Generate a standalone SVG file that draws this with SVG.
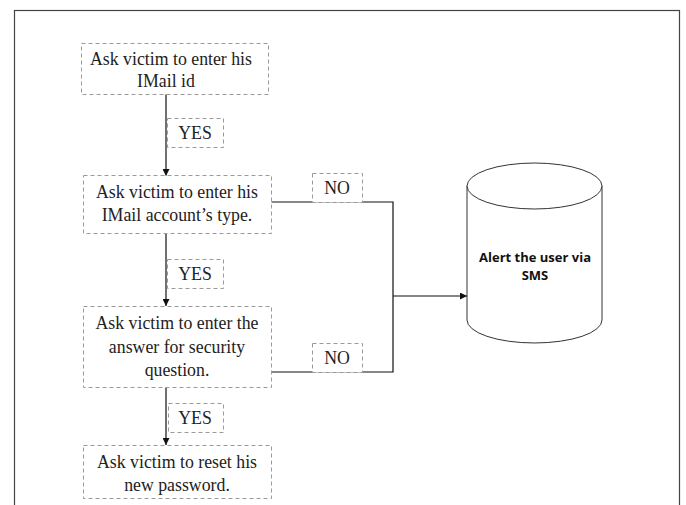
<svg xmlns="http://www.w3.org/2000/svg" width="686" height="505" viewBox="0 0 686 505">
<defs>
<style>
.box{fill:#fff;stroke:#9a9a9a;stroke-width:1;stroke-dasharray:4 3}
.t{font-family:"Liberation Serif","Times New Roman",serif;font-size:17.8px;fill:#222;text-anchor:middle}
.c{fill:none;stroke:#111;stroke-width:1.2}
.b{font-family:"Open Sans","Liberation Sans",sans-serif;font-weight:bold;font-size:13px;fill:#111;text-anchor:middle}
</style>
<marker id="ah" viewBox="0 0 10 10" refX="10" refY="5" markerWidth="7" markerHeight="7" orient="auto" markerUnits="userSpaceOnUse">
<path d="M0,0 L10,5 L0,10 z" fill="#111"/>
</marker>
</defs>
<rect x="0" y="0" width="686" height="505" fill="#fff"/>
<rect x="14.5" y="10.5" width="665" height="500" fill="none" stroke="#444" stroke-width="1.2"/>
<g id="connectors">
<path class="c" d="M166,94 V176" marker-end="url(#ah)"/>
<path class="c" d="M166,233 V306" marker-end="url(#ah)"/>
<path class="c" d="M166,387 V445" marker-end="url(#ah)"/>
<path class="c" d="M271,202 H393 V372 H271"/>
<path class="c" d="M393,296 H467" marker-end="url(#ah)"/>
</g>
<g id="n1"><rect class="box" x="81.5" y="43.5" width="187" height="51"/>
<text class="t" x="171" y="65">Ask victim to enter his</text><text class="t" x="166" y="87">IMail id</text></g>
<g id="yes1"><rect class="box" x="167.5" y="118.5" width="56" height="29"/><text class="t" x="195" y="139">YES</text></g>
<g id="n2"><rect class="box" x="83.5" y="175.5" width="188" height="58"/>
<text class="t" x="177" y="198">Ask victim to enter his</text><text class="t" x="177" y="221">IMail account’s type.</text></g>
<g id="no1"><rect class="box" x="312.5" y="173.5" width="50" height="29"/><text class="t" x="337" y="194">NO</text></g>
<g id="yes2"><rect class="box" x="167.5" y="259.5" width="56" height="29"/><text class="t" x="195" y="280">YES</text></g>
<g id="n3"><rect class="box" x="83.5" y="306.5" width="188" height="81"/>
<text class="t" x="177" y="329">Ask victim to enter the</text><text class="t" x="177" y="353">answer for security</text><text class="t" x="177" y="376">question.</text></g>
<g id="no2"><rect class="box" x="312.5" y="343.5" width="50" height="29"/><text class="t" x="337" y="364">NO</text></g>
<g id="yes3"><rect class="box" x="168.5" y="403.5" width="55" height="29"/><text class="t" x="195" y="424">YES</text></g>
<g id="n4"><rect class="box" x="83.5" y="445.5" width="188" height="53"/>
<text class="t" x="177" y="468">Ask victim to reset his</text><text class="t" x="177" y="491">new password.</text></g>
<g id="sms">
<path d="M467,186 V320 A67.5,23 0 0 0 602,320 V186" fill="#fff" stroke="#333" stroke-width="1"/>
<ellipse cx="534.5" cy="186" rx="67.5" ry="23" fill="#fff" stroke="#333" stroke-width="1"/>
<text class="b" x="535" y="262">Alert the user via</text><text class="b" x="535" y="280">SMS</text>
</g>
</svg>
